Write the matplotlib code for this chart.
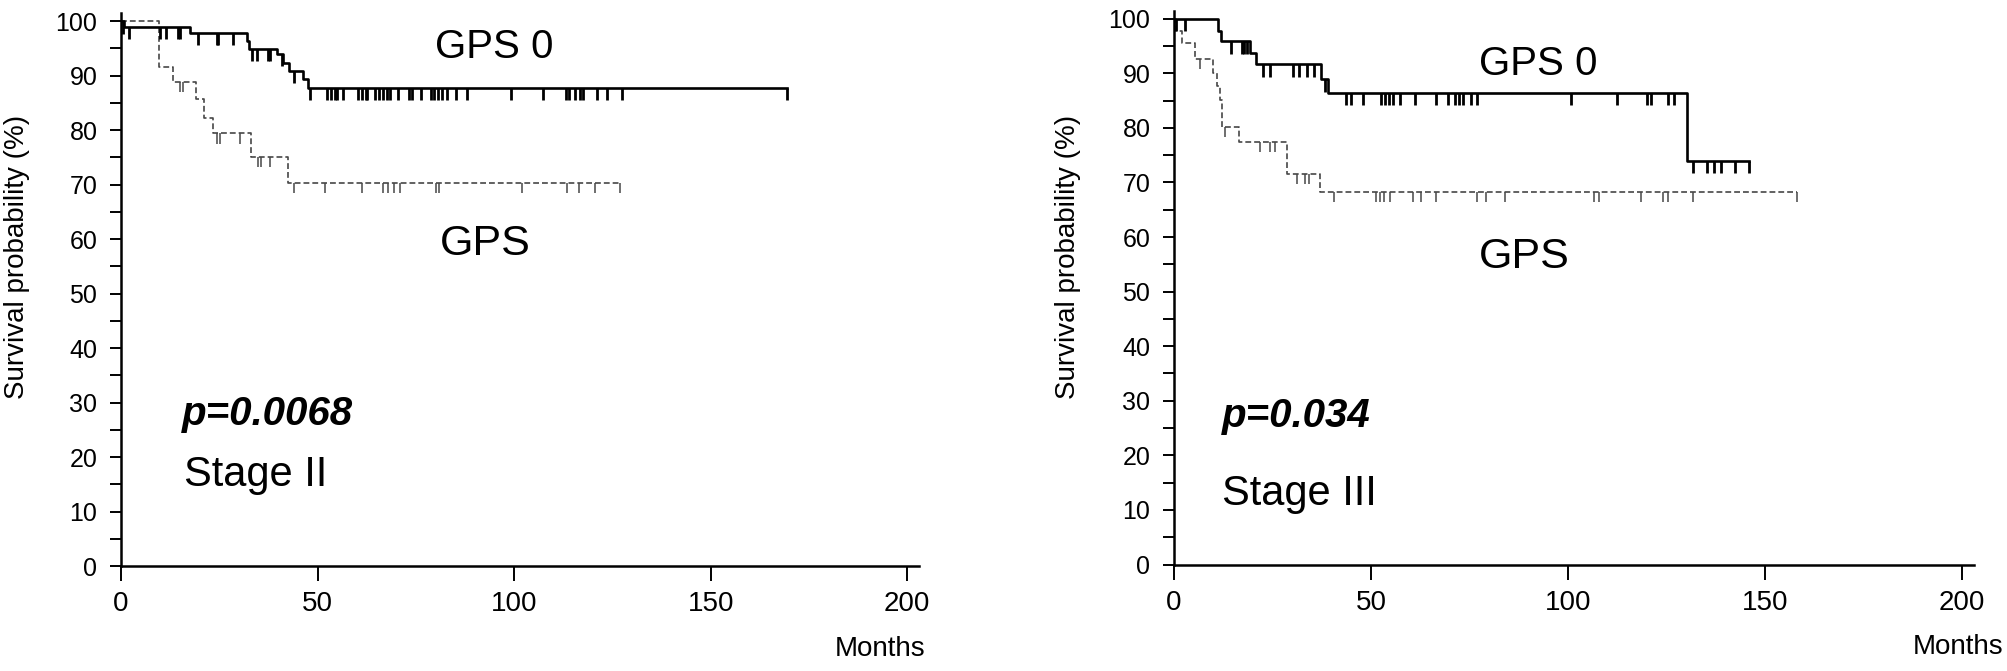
import numpy as np
import matplotlib.pyplot as plt
from matplotlib.ticker import MultipleLocator

plt.rcParams["font.family"] = ["Liberation Sans", "DejaVu Sans"]

# ---- Stage II (left panel) ----
s2_gps0_time = [0, 0.8, 17.5, 32.0, 32.5, 39.6, 41.1, 42.8, 46.3, 47.6, 169.5]
s2_gps0_surv = [100, 99.0, 97.9, 96.3, 94.9, 94.0, 92.4, 90.9, 89.4, 87.8, 87.8]
s2_gps0_cens = [0.6, 2.1, 9.8, 11.4, 14.6, 15.0, 19.7, 24.3, 24.8, 28.4, 33.4,
                34.7, 37.3, 38.0, 40.9, 44.0, 48.1, 52.5, 53.4, 54.4, 54.9,
                56.4, 60.3, 61.2, 62.2, 62.7, 64.6, 65.6, 66.6, 67.6, 68.5,
                70.5, 73.2, 73.9, 76.3, 78.8, 79.7, 80.7, 81.7, 82.9, 85.1,
                88.0, 99.1, 107.4, 113.3, 114.0, 115.5, 116.8, 117.6, 121.0,
                123.7, 127.4, 169.5]

s2_gps_time = [0, 9.7, 13.3, 19.2, 21.0, 23.4, 33.1, 42.5, 127.0]
s2_gps_surv = [100, 91.6, 88.9, 85.7, 82.3, 79.4, 75.1, 70.3, 70.3]
s2_gps_cens = [15.0, 15.8, 24.3, 25.2, 30.3, 34.9, 35.5, 37.9, 44.0, 52.0,
               61.2, 66.6, 68.0, 69.5, 71.0, 80.2, 81.0, 102.0, 113.5, 116.5,
               120.5, 127.0]

# ---- Stage III (right panel) ----
s3_gps0_time = [0, 11.2, 12.0, 19.3, 20.8, 37.4, 39.0, 130.1, 146.0]
s3_gps0_surv = [100, 97.8, 95.9, 93.8, 91.7, 88.9, 86.4, 74.0, 74.0]
s3_gps0_cens = [0.6, 2.8, 14.4, 17.2, 17.8, 18.6, 22.5, 24.4, 30.3, 31.8,
                33.7, 35.5, 38.3, 43.6, 45.0, 48.0, 52.5, 53.5, 54.5, 55.5,
                57.3, 61.2, 66.5, 69.6, 71.2, 72.3, 73.3, 75.4, 77.0, 100.8,
                112.3, 120.1, 121.1, 125.4, 126.9, 131.6, 135.2, 136.9, 138.8,
                142.4, 146.0]

s3_gps_time = [0, 0.5, 2.0, 5.4, 9.8, 10.8, 11.7, 12.2, 16.4, 28.8, 37.0, 158.0]
s3_gps_surv = [100, 97.7, 95.5, 92.7, 90.0, 87.6, 85.1, 80.2, 77.4, 71.6, 68.3, 68.3]
s3_gps_cens = [6.6, 13.0, 21.8, 24.4, 25.6, 31.1, 33.2, 34.3, 40.7, 51.2, 52.3,
               53.3, 54.9, 60.7, 62.8, 66.5, 77.0, 79.1, 83.9, 106.7, 107.9,
               118.5, 124.1, 125.3, 131.7, 158.0]

x_ticks = [0, 50, 100, 150, 200]
y_ticks = [0, 10, 20, 30, 40, 50, 60, 70, 80, 90, 100]

SOLID = "black"
DASHED = "#474747"


def level_at(times, surv, t):
    idx = np.searchsorted(times, t, side="right") - 1
    return np.asarray(surv)[idx]


def km_curve(ax, times, surv, cens, color, lw, ls, mark_len, mark_lw):
    ax.step(times, surv, where="post", color=color, lw=lw, linestyle=ls)
    cens = np.asarray(cens)
    lvl = level_at(times, surv, cens)
    ax.vlines(cens, lvl - mark_len, lvl, color=color, lw=mark_lw)


def style_axes(ax):
    ax.set_xlim(0, 203)
    ax.set_ylim(0, 101.5)
    for side in ("top", "right"):
        ax.spines[side].set_visible(False)
    for side in ("left", "bottom"):
        ax.spines[side].set_linewidth(1.8)
    ax.set_xticks(x_ticks)
    ax.set_yticks(y_ticks)
    ax.yaxis.set_minor_locator(MultipleLocator(5))
    ax.tick_params(axis="y", which="both", direction="out", length=8,
                   width=1.4, labelsize=18, pad=9)
    ax.tick_params(axis="x", direction="out", length=11, width=1.4,
                   labelsize=20, pad=7)


fig = plt.figure(figsize=(20.08, 6.71), dpi=100)
ax1 = fig.add_axes([121 / 2008, 105 / 671, 798 / 2008, 553 / 671])
ax2 = fig.add_axes([1174 / 2008, 106.5 / 671, 800 / 2008, 554 / 671])

# left panel
km_curve(ax1, s2_gps_time, s2_gps_surv, s2_gps_cens, DASHED, 1.2,
         (0, (3.5, 1.8)), 1.9, 1.1)
km_curve(ax1, s2_gps0_time, s2_gps0_surv, s2_gps0_cens, SOLID, 1.9, "-", 2.3, 2.0)
style_axes(ax1)
ax1.text(80, 93.3, "GPS 0", fontsize=29, va="baseline")
ax1.text(81, 57.1, "GPS", fontsize=31, va="baseline")
ax1.text(15.5, 25.9, "p=0.0068", fontsize=29, va="baseline",
         fontweight="bold", fontstyle="italic")
ax1.text(16, 14.6, "Stage II", fontsize=30, va="baseline")

# right panel
km_curve(ax2, s3_gps_time, s3_gps_surv, s3_gps_cens, DASHED, 1.2,
         (0, (3.5, 1.8)), 1.9, 1.1)
km_curve(ax2, s3_gps0_time, s3_gps0_surv, s3_gps0_cens, SOLID, 1.9, "-", 2.3, 2.0)
style_axes(ax2)
ax2.text(77.4, 89.7, "GPS 0", fontsize=29, va="baseline")
ax2.text(77.4, 54.3, "GPS", fontsize=31, va="baseline")
ax2.text(12.2, 25.2, "p=0.034", fontsize=29, va="baseline",
         fontweight="bold", fontstyle="italic")
ax2.text(12.2, 10.9, "Stage III", fontsize=30, va="baseline")

# axis titles
for xc in (17 / 2008, 1068 / 2008):
    fig.text(xc, 1 - 257 / 671, "Survival probability (%)", rotation=90,
             ha="center", va="center", fontsize=20)
fig.text(925 / 2008, 1 - 649 / 671, "Months", ha="right", va="center", fontsize=20)
fig.text(2003 / 2008, 1 - 647 / 671, "Months", ha="right", va="center", fontsize=20)

fig.savefig("out.png", dpi=100)
